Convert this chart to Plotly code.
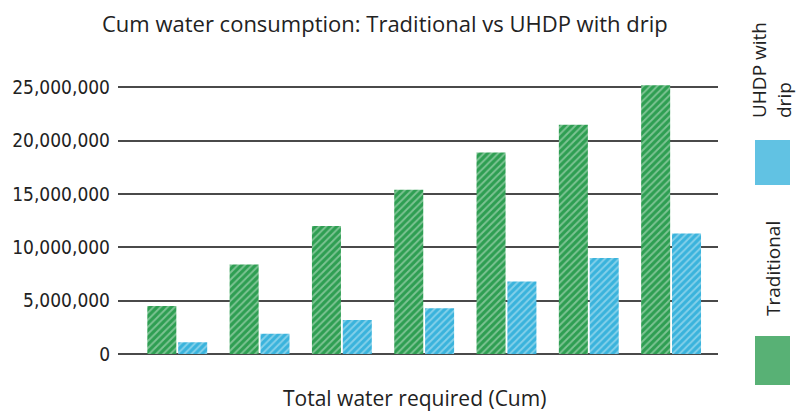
import plotly.graph_objects as go

categories = ["1", "2", "3", "4", "5", "6", "7"]
traditional = [4500000, 8400000, 12000000, 15400000, 18900000, 21500000, 25200000]
uhdp_drip = [1100000, 1900000, 3200000, 4300000, 6800000, 9000000, 11300000]
y_ticks = [0, 5000000, 10000000, 15000000, 20000000, 25000000]
y_tick_labels = ["0", "5,000,000", "10,000,000", "15,000,000", "20,000,000", "25,000,000"]

GREEN = "#2e9e52"
BLUE = "#3ab3dc"

L, R, T, B = 118, 85, 81, 57
W, H = 803, 411
PW, PH = W - L - R, H - T - B


def px(x):
    return (x - L) / PW


def py(y):
    return 1 - (y - T) / PH


def hatch(color):
    return dict(color=color, line=dict(width=0),
                pattern=dict(shape="/", fgcolor="rgba(255,255,255,0.75)",
                             size=5, solidity=0.38, fillmode="overlay"))


fig = go.Figure()
fig.add_trace(go.Bar(x=categories, y=traditional, name="Traditional",
                     marker=hatch(GREEN), showlegend=False))
fig.add_trace(go.Bar(x=categories, y=uhdp_drip, name="UHDP with drip",
                     marker=hatch(BLUE), showlegend=False))

fig.update_layout(
    width=W, height=H,
    margin=dict(l=L, r=R, t=T, b=B, autoexpand=False),
    paper_bgcolor="white", plot_bgcolor="white",
    barmode="group", bargap=0.25, bargroupgap=0.06,
    font=dict(family="Open Sans, Noto Sans, sans-serif", color="#222"),
    xaxis=dict(range=[-0.72, 6.57], showticklabels=False, ticks="",
               showgrid=False, zeroline=False, showline=False, automargin=False),
    yaxis=dict(range=[0, 25600000], tickvals=y_ticks, ticktext=y_tick_labels,
               showgrid=True, gridcolor="#4a4a4a", gridwidth=1.5,
               zeroline=True, zerolinecolor="#4a4a4a", zerolinewidth=1.5,
               showline=False, ticks="", ticklabelstandoff=7, automargin=False,
               tickfont=dict(family="DejaVu Sans Condensed, sans-serif",
                             size=19, color="#222")),
    annotations=[
        dict(text="Cum water consumption: Traditional vs UHDP with drip",
             xref="paper", yref="paper", x=px(385), y=py(23),
             xanchor="center", yanchor="middle", showarrow=False,
             font=dict(size=22, family="Open Sans, sans-serif", color="#222")),
        dict(text="Total water required (Cum)",
             xref="paper", yref="paper", x=px(414), y=py(398),
             xanchor="center", yanchor="middle", showarrow=False,
             font=dict(size=21, family="Open Sans, sans-serif", color="#222")),
        dict(text="UHDP with<br>drip", textangle=-90,
             xref="paper", yref="paper", x=px(772), y=py(70),
             xanchor="center", yanchor="middle", showarrow=False, align="left",
             font=dict(size=19, family="Open Sans, sans-serif", color="#222")),
        dict(text="Traditional", textangle=-90,
             xref="paper", yref="paper", x=px(773), y=py(268),
             xanchor="center", yanchor="middle", showarrow=False,
             font=dict(size=19, family="Open Sans, sans-serif", color="#222")),
    ],
    shapes=[
        dict(type="rect", xref="paper", yref="paper",
             x0=px(755), x1=px(790), y0=py(185), y1=py(140),
             line=dict(width=0), fillcolor=BLUE, opacity=0.8),
        dict(type="rect", xref="paper", yref="paper",
             x0=px(755), x1=px(790), y0=py(385), y1=py(336),
             line=dict(width=0), fillcolor=GREEN, opacity=0.8),
    ],
)

fig.write_html("out.html", config={"displayModeBar": False},
               post_script="document.body.style.margin='0';")
